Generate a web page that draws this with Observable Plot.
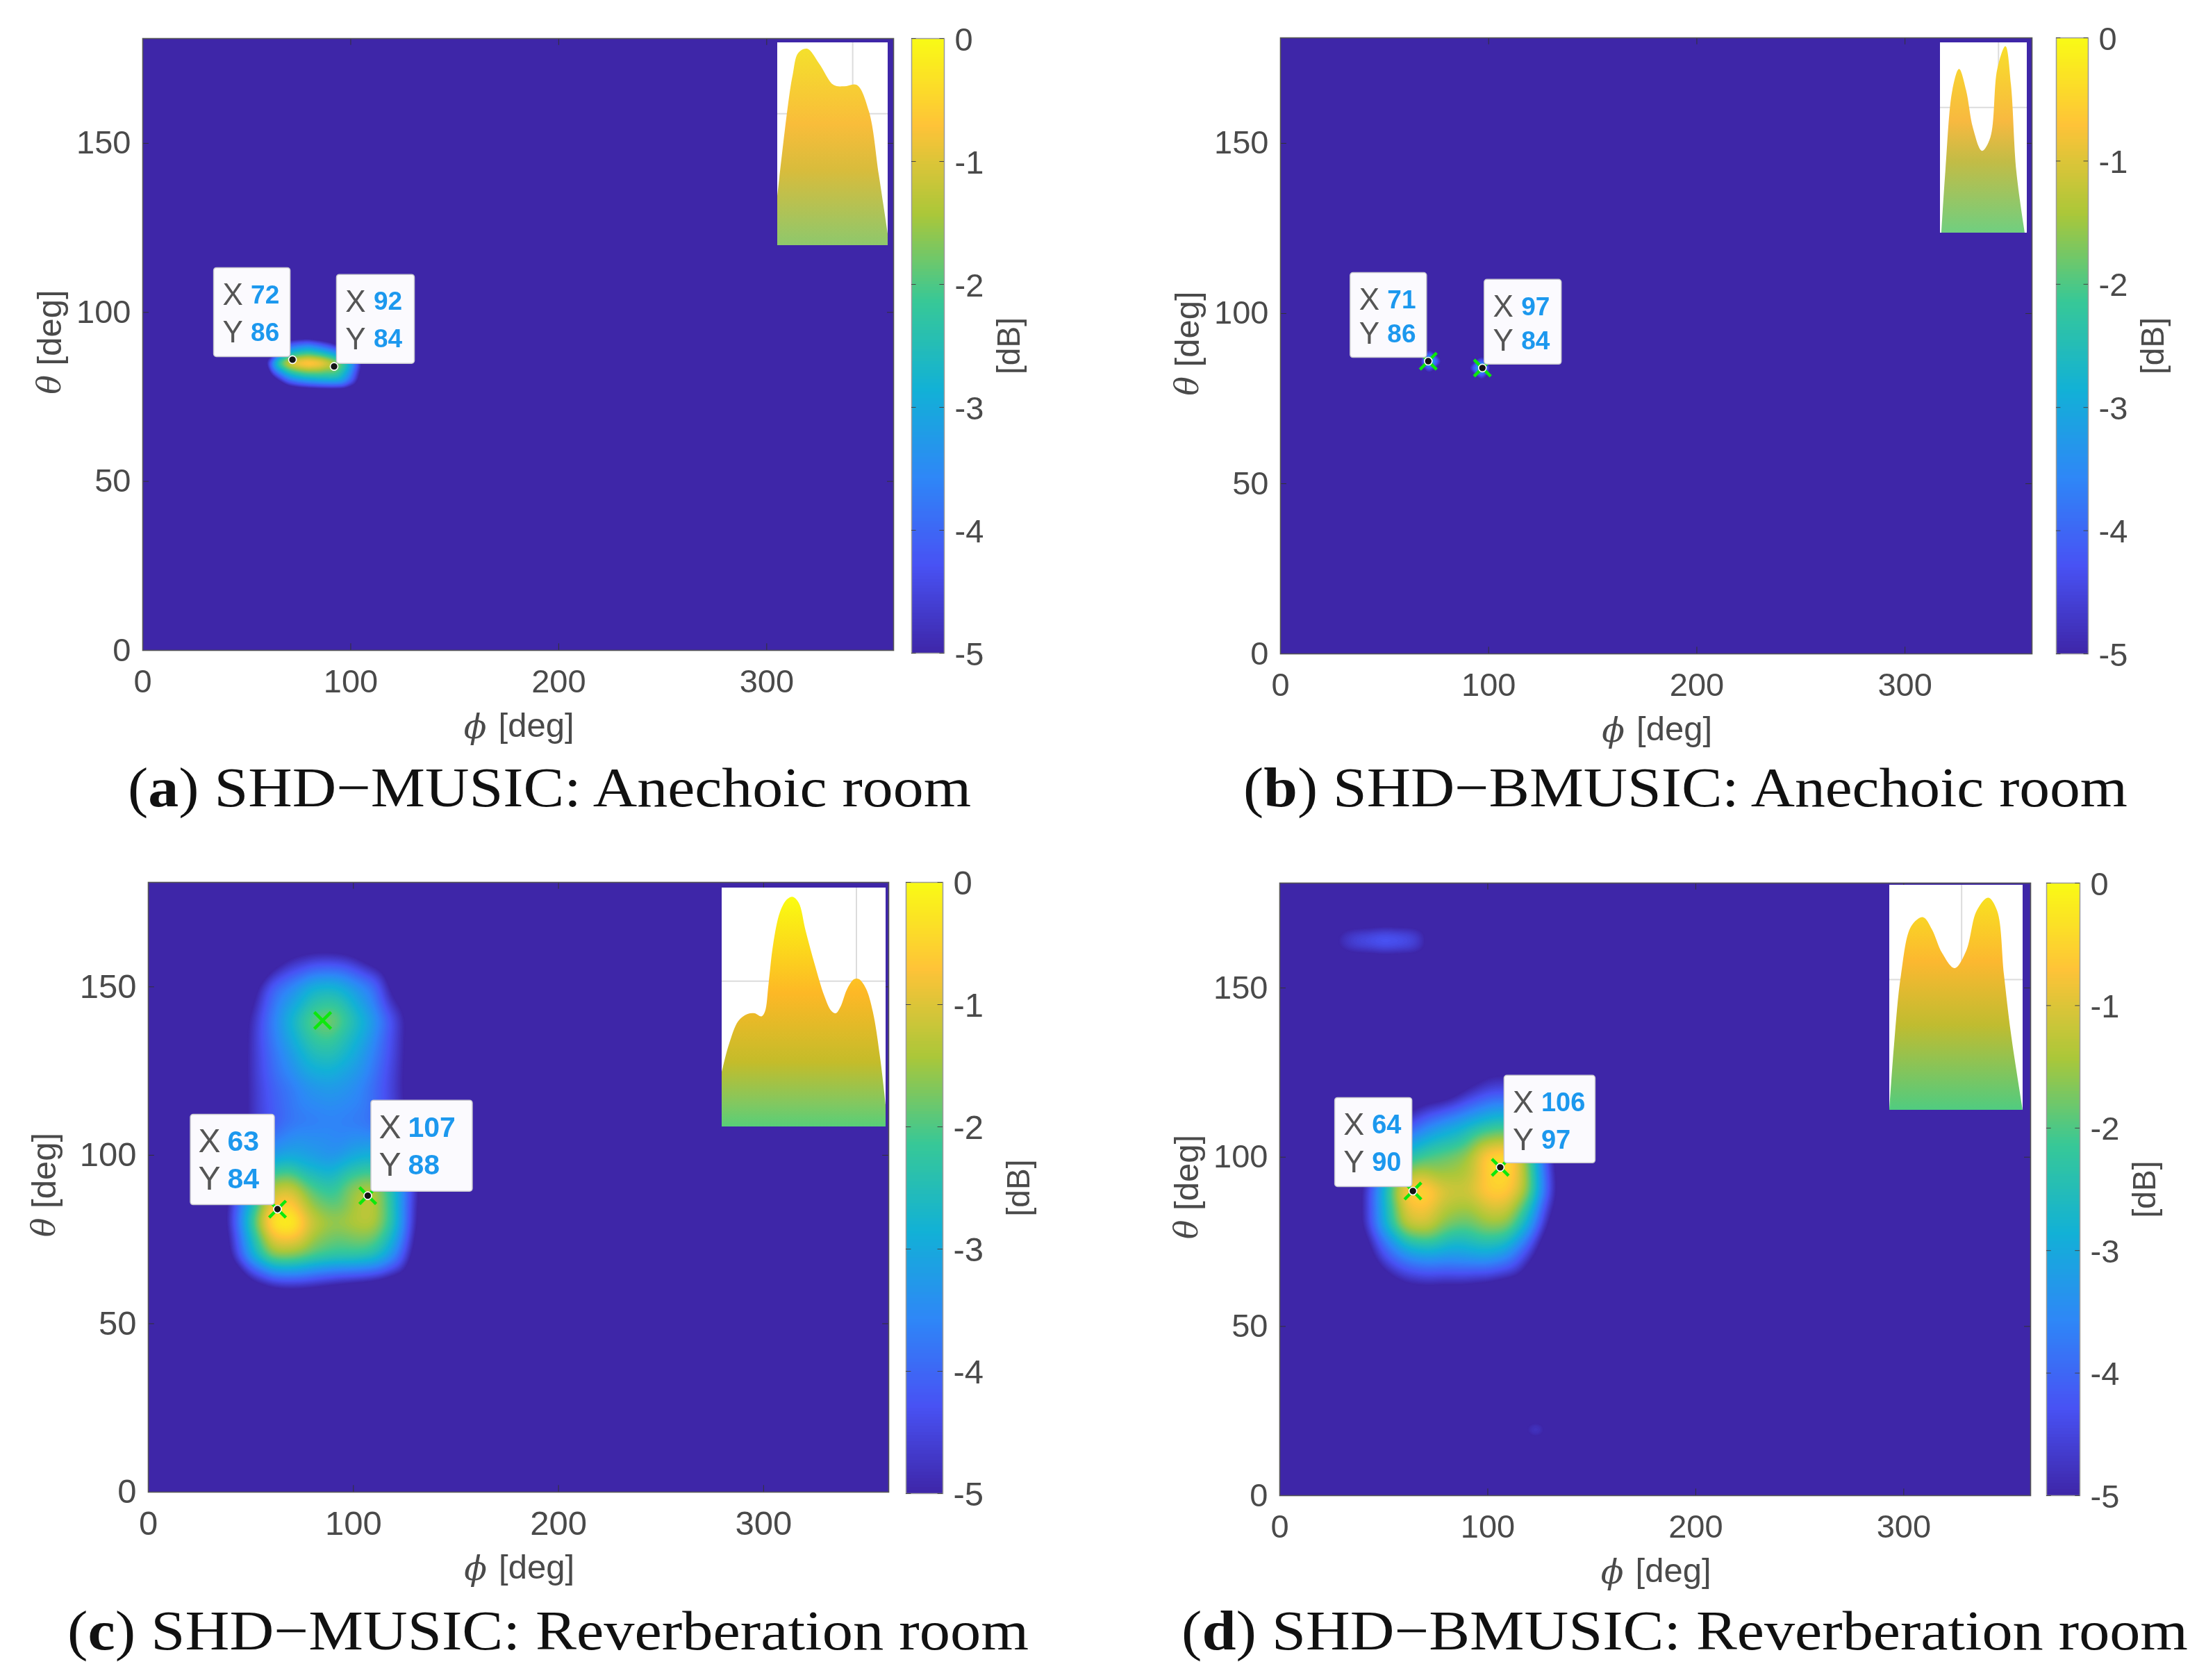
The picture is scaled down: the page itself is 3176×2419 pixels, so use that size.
<!DOCTYPE html>
<html>
<head>
<meta charset="utf-8">
<script src="https://cdn.jsdelivr.net/npm/d3@7"></script>
<script src="https://cdn.jsdelivr.net/npm/@observablehq/plot@0.6"></script>
<style>
html,body{margin:0;padding:0;background:#fff}
#page{position:relative;width:3176px;height:2419px;overflow:hidden;background:#fff}
#page>svg{position:absolute;filter:blur(0.6px)}
.cap{position:absolute;white-space:nowrap;font-family:"Liberation Serif",serif;color:#111;transform-origin:0 50%}
</style>
</head>
<body>
<div id="page"></div>
<script>
// ---------- data ----------
const xTicks = [0, 100, 200, 300];
const yTicks = [0, 50, 100, 150];
const dbTicks = [-5, -4, -3, -2, -1, 0];
const parula = ["#3e26a8","#4852f4","#2e87f7","#12b1d6","#37c897","#abc739","#fec338","#f9fb15"];

const cornerPhi = [0, 361, 0, 361];
const cornerTheta = [0, 0, 181, 181];

// (a) SHD-MUSIC anechoic
const phiA = [55,60,65,70,75,80,85,90,95,100,105,110];
const thetaA = [95,90,85,80,75];
const dbA = [
 [-7,-7,-7,-7,-7,-7,-7,-7,-7,-7,-7,-7],
 [-7,-7,-5.5,-4,-3.6,-3.4,-3.8,-4.3,-5,-6,-7,-7],
 [-7,-4.6,-2,-0.8,-0.4,-0.2,-0.4,-0.9,-1.6,-2.8,-4.8,-7],
 [-7,-6.3,-5,-3.8,-3.3,-3,-2.8,-2.7,-2.8,-3.9,-5.4,-7],
 [-7,-7,-7,-7,-7,-7,-7,-7,-7,-7,-7,-7]
];
// (b) SHD-BMUSIC anechoic
const phiB = [71,67,75,79,71,71,97,101,93,89,97,97];
const thetaB = [86,86,86,86,90,82,84,84,84,84,88,80];
const dbB = [-1.6,-5.3,-3.6,-5.5,-5.3,-5.3,-1.6,-5.3,-3.6,-5.5,-5.3,-5.3];
// (c) SHD-MUSIC reverberation
const phiC = [30,40,50,60,70,80,90,100,110,120,130,140];
const thetaC = [170,160,150,140,130,120,110,100,90,80,70,60,50];
const dbC = [
 [-6.5,-6.5,-6.5,-6.5,-6.5,-6.5,-6.5,-6.5,-6.5,-6.5,-6.5,-6.5],
 [-6.5,-6.5,-6.4,-5.9,-5.2,-5,-5,-5.2,-5.8,-6.3,-6.5,-6.5],
 [-6.5,-6,-5.5,-4.1,-3.5,-2.8,-2.7,-3.2,-3.8,-5.4,-6,-6.5],
 [-6.5,-5.8,-4.9,-3.7,-2.7,-1.8,-1.6,-2.4,-3.2,-4.4,-5.5,-6.5],
 [-6.5,-5.8,-4.8,-3.9,-3.2,-2.5,-2.4,-2.9,-3.6,-4.5,-5.5,-6.5],
 [-6.5,-5.8,-4.8,-4.1,-3.7,-3.3,-3.2,-3.4,-3.9,-4.6,-5.5,-6.5],
 [-6.5,-5.8,-4.8,-4.2,-3.8,-3.7,-3.6,-3.7,-3.9,-4.5,-5.3,-6.5],
 [-6.5,-5.5,-4.4,-3.2,-3,-3.2,-3.4,-3,-2.8,-3.6,-5.1,-6.5],
 [-6.3,-5,-3.2,-1.2,-1,-2,-2.3,-1.5,-1.2,-2.5,-4.7,-6.3],
 [-6.3,-4.7,-2.2,-0.1,0.1,-1.1,-1.5,-1.3,-1.2,-2.4,-4.9,-6.3],
 [-6.5,-5.1,-3,-1.6,-1.6,-2,-2.2,-2.2,-2.4,-3.4,-5.4,-6.5],
 [-6.5,-6.3,-5.7,-5.3,-5.2,-5.3,-5.5,-5.7,-5.9,-6.3,-6.5,-6.5],
 [-6.5,-6.5,-6.5,-6.5,-6.5,-6.5,-6.5,-6.5,-6.5,-6.5,-6.5,-6.5]
];
// (d) SHD-BMUSIC reverberation
const phiD = [30,40,50,60,70,80,90,100,110,120,130,140];
const thetaD = [130,120,110,100,90,80,70,60,50];
const dbD = [
 [-6.5,-6.5,-6.5,-6.5,-6.5,-6.5,-6.3,-5.8,-5.8,-6.3,-6.5,-6.5],
 [-6.5,-6.5,-6.3,-6,-5.8,-5.7,-5,-4.5,-4.4,-5,-6,-6.5],
 [-6.5,-6,-5.2,-4.6,-3.8,-3.3,-2.9,-2.5,-2.3,-3.8,-5.5,-6.3],
 [-6.3,-5.4,-3.7,-2.5,-2,-1.8,-1.5,-0.4,-0.2,-1.8,-4.8,-6.2],
 [-6.2,-5,-2.7,-0.5,-0.3,-1,-1.1,-0.5,-0.5,-1.6,-4.5,-6.2],
 [-6.3,-5,-2.9,-1.2,-1,-1.7,-1.9,-1.5,-1.6,-3,-5.3,-6.3],
 [-6.5,-5.8,-4.4,-3.6,-3.3,-3.4,-3.3,-3.2,-3.6,-4.8,-6,-6.5],
 [-6.5,-6.5,-6,-5.5,-5.4,-5.5,-5.5,-5.7,-6,-6.3,-6.5,-6.5],
 [-6.5,-6.5,-6.5,-6.5,-6.5,-6.5,-6.5,-6.5,-6.5,-6.5,-6.5,-6.5]
];
const extraPhiD = [20,27,40,50,60,70,76, 24,50,76, 24,50,76, 111,118,123,128,135,123,123];
const extraThetaD = [164,164,164,164,164,164,164, 172,172,172, 156,156,156, 19.5,19.5,19.5,19.5,19.5,25,14];
const extraDbD = [-5.8,-4.8,-4.1,-3.8,-4,-4.8,-5.8, -6,-6,-6, -6,-6,-6, -5.8,-4.4,-4.1,-4.4,-5.8,-5.8,-5.8];

// data tips: phi, theta of the picked peaks
const tipPhiA = [72, 92],  tipThetaA = [86, 84];
const tipPhiB = [71, 97],  tipThetaB = [86, 84];
const tipPhiC = [63, 107], tipThetaC = [84, 88];
const tipPhiD = [64, 106], tipThetaD = [90, 97];
const crossPhiC = [63, 107, 85], crossThetaC = [84, 88, 140];

// inset surfaces (percent of the inset box)
const insetAx = [0,9.6,14,19,27,38,51,60.5,72,83,92,100];
const insetAh = [24,68.6,84,94.8,96.9,89.5,79,78.3,79,66,34.6,5.8];
const insetBx = [1.6,6.3,14.3,22,30,38,48.4,58,66,75.4,81.7,88,97.6];
const insetBh = [0,33,75,86,75,55,43,50,86,98,78,32,0];
const insetCx = [0,4.5,10.2,15.8,20.1,24.3,26.4,28.6,31.4,35.6,39.9,43.4,47,51.2,56.9,62.5,66.8,69.6,72.4,76.7,80.9,83.7,88,92.2,96.5,100];
const insetCh = [22.8,34.5,44.2,47.1,47.4,46.1,48.1,59.7,76.2,89.8,95.1,96.1,93.7,82,67.5,54.9,48.5,47.4,50,57.8,61.7,61.7,57.8,48.1,29.6,9.2];
const insetDx = [0,3.6,8.8,16.5,25.3,32,39.7,49,57.7,65.5,74.2,80.9,86,91.2,100];
const insetDh = [0,29,60,81.6,85.6,80.2,69.6,63,70.7,88.4,94.3,88.4,60,34,0];

const captions = [
  ["a", "SHD\u2212MUSIC: Anechoic room"],
  ["b", "SHD\u2212BMUSIC: Anechoic room"],
  ["c", "SHD\u2212MUSIC: Reverberation room"],
  ["d", "SHD\u2212BMUSIC: Reverberation room"]
];

// ---------- helpers ----------
const gridPts = (phis, thetas, rows) => thetas.flatMap((t, i) => phis.map((p, j) => ({phi: p, theta: t, v: rows[i][j]})));
const listPts = (phis, thetas, vals) => phis.map((p, i) => ({phi: p, theta: thetas[i], v: vals[i]}));
const corners = v => cornerPhi.map((p, i) => ({phi: p, theta: cornerTheta[i], v}));
const zipInset = (xs, hs) => xs.map((x, i) => ({x, h: hs[i]}));

const sans = '"Liberation Sans", Arial, sans-serif';
const ink = "#4a4a4a";
const colorScale = {type: "linear", domain: [-5, 0], interpolate: d3.piecewise(d3.interpolateRgb, parula), clamp: true};
const thresholds = d3.range(-5, 0.001, 0.05);
const page = document.getElementById("page");
const phiMax = 361, thetaMax = 181;

function place(el, x, y) { el.style.position = "absolute"; el.style.left = x + "px"; el.style.top = y + "px"; page.appendChild(el); return el; }

// ---------- panel ----------
function panel(cfg) {
  const {frame: f, bar: b, inset: ins, pts, blur, tips, crosses, tipFont, tickFont, row2, titleShift, dbShift} = cfg;
  const kx = f.w / phiMax, ky = f.h / thetaMax;
  const mL = 205, mT = 20, mB = 150, mR = 4;
  const tipRows = tips.map(t => {
    const px = dx => t.phi + dx / kx;
    const py = dy => t.theta - (dy - 2) / ky;
    const left = t.box[0], top = t.box[1];
    return {
      ...t,
      x1: px(left), x2: px(t.box[2]), y1: py(top), y2: py(t.box[3]),
      lx: px(left + 27), vx: px(left + 53), ry1: py(top + 39), ry2: py(top + row2)
    };
  });
  const textTip = {fontFamily: sans, fontSize: tipFont};
  const main = Plot.plot({
    width: f.w + mL + mR, height: f.h + mT + mB,
    marginLeft: mL, marginRight: mR, marginTop: mT, marginBottom: mB,
    x: {domain: [0, phiMax], axis: null},
    y: {domain: [0, thetaMax], axis: null},
    color: colorScale,
    style: {background: "transparent", overflow: "visible"},
    marks: [
      Plot.frame({fill: parula[0]}),
      Plot.contour(pts, {x: "phi", y: "theta", value: "v", fill: "value", interpolate: "barycentric", thresholds, blur, pixelSize: 3, clip: true}),
      Plot.ruleX(xTicks, {x: d => d, y1: 0, y2: 2, stroke: "#333"}),
      Plot.ruleX(xTicks, {x: d => d, y1: thetaMax - 2, y2: thetaMax, stroke: "#333"}),
      Plot.ruleY(yTicks, {y: d => d, x1: 0, x2: 3, stroke: "#333"}),
      Plot.ruleY(yTicks, {y: d => d, x1: phiMax - 3, x2: phiMax, stroke: "#333"}),
      Plot.frame({stroke: "#555", strokeWidth: 1.6}),
      Plot.axisX(xTicks, {anchor: "bottom", tickSize: 0, tickPadding: 27, fontSize: tickFont, fontFamily: sans, color: ink, label: null, tickFormat: d => String(d)}),
      Plot.axisY(yTicks, {anchor: "left", tickSize: 0, tickPadding: 17, fontSize: tickFont, fontFamily: sans, color: ink, label: null, tickFormat: d => String(d)}),
      // axis titles
      Plot.text(["\u03D5"], {frameAnchor: "bottom", dx: -62, dy: 126, fontSize: 48, fontStyle: "italic", fontFamily: '"DejaVu Serif", serif', fill: ink, textAnchor: "middle"}),
      Plot.text(["[deg]"], {frameAnchor: "bottom", dx: 26, dy: 124, fontSize: 49, fontFamily: sans, fill: ink, textAnchor: "middle"}),
      Plot.text(["\u03B8"], {frameAnchor: "left", dx: -133 - titleShift, dy: 58, rotate: -90, fontSize: 46, fontStyle: "italic", fontFamily: '"DejaVu Serif", serif', fill: ink, textAnchor: "middle"}),
      Plot.text(["[deg]"], {frameAnchor: "left", dx: -133 - titleShift, dy: -24, rotate: -90, fontSize: 49, fontFamily: sans, fill: ink, textAnchor: "middle"}),
      // picked-peak markers
      Plot.dot(crosses, {x: "phi", y: "theta", symbol: "times", r: 11, stroke: "#0ce80c", strokeWidth: 4.5}),
      Plot.rect(tipRows, {x1: "x1", x2: "x2", y1: "y1", y2: "y2", fill: "#fbfafe", stroke: "#c9c9cf", strokeWidth: 1.5, rx: 4}),
      Plot.text(tipRows, {x: "lx", y: "ry1", text: () => "X", fill: "#555", ...textTip, fontSize: tipFont + 7}),
      Plot.text(tipRows, {x: "lx", y: "ry2", text: () => "Y", fill: "#555", ...textTip, fontSize: tipFont + 7}),
      Plot.text(tipRows, {x: "vx", y: "ry1", text: d => String(d.phi), textAnchor: "start", fill: "#1c98ee", fontWeight: 700, ...textTip}),
      Plot.text(tipRows, {x: "vx", y: "ry2", text: d => String(d.theta), textAnchor: "start", fill: "#1c98ee", fontWeight: 700, ...textTip}),
      Plot.dot(tipRows, {x: "phi", y: "theta", r: 5.5, fill: "#151515", stroke: "#fff", strokeWidth: 1.6})
    ]
  });
  place(main, f.x - mL, f.y - mT);

  // colour bar
  const step = 0.025;
  const bL = 8, bR = 130, bT = 20, bB = 40;
  const levels = d3.range(-5, 0, step);
  const barPlot = Plot.plot({
    width: b.w + bL + bR, height: b.h + bT + bB,
    marginLeft: bL, marginRight: bR, marginTop: bT, marginBottom: bB,
    x: {domain: [0, 1], axis: null},
    y: {domain: [-5, 0], axis: null},
    color: colorScale,
    style: {background: "transparent", overflow: "visible"},
    marks: [
      Plot.rect(levels, {x1: 0, x2: 1, y1: d => d, y2: d => d + step, fill: d => d + step / 2, shapeRendering: "crispEdges"}),
      Plot.frame({stroke: "#9a9a9a", strokeWidth: 1.5}),
      Plot.ruleY(dbTicks, {y: d => d, x1: 0, x2: 0.14, stroke: "#444"}),
      Plot.ruleY(dbTicks, {y: d => d, x1: 0.86, x2: 1, stroke: "#444"}),
      Plot.axisY(dbTicks, {anchor: "right", tickSize: 0, tickPadding: 15, fontSize: tickFont, fontFamily: sans, color: ink, label: null, dy: 2, tickFormat: d => String(d)}),
      Plot.text(["[dB]"], {frameAnchor: "right", dx: 94 + dbShift, rotate: -90, fontSize: 46, fontFamily: sans, fill: ink, textAnchor: "middle"})
    ]
  });
  place(barPlot, b.x - bL, b.y - bT);

  // inset surface picture
  const gid = "grad" + cfg.id;
  const insetPlot = Plot.plot({
    width: ins.w, height: ins.h, margin: 0,
    x: {domain: [0, 100], axis: null},
    y: {domain: [0, 100], axis: null},
    style: {background: "#fff"},
    marks: [
      () => {
        const defs = d3.create("svg:defs");
        const g = defs.append("linearGradient").attr("id", gid).attr("x1", 0).attr("x2", 0).attr("y1", 0).attr("y2", 1);
        ins.stops.forEach(s => g.append("stop").attr("offset", s[0]).attr("stop-color", s[1]));
        return defs.node();
      },
      Plot.ruleX([ins.gridX], {stroke: "#dcdcdc", strokeWidth: 2}),
      Plot.ruleY([ins.gridY], {stroke: "#dcdcdc", strokeWidth: 2}),
      Plot.areaY(ins.rows, {x: "x", y: "h", curve: "catmull-rom", fill: `url(#${gid})`})
    ]
  });
  place(insetPlot, ins.x, ins.y);
}

// ---------- layout ----------
panel({
  id: "a", tipFont: 37, tickFont: 47, row2: 93, titleShift: 0, dbShift: 0, blur: 0.8,
  frame: {x: 205, y: 55, w: 1081, h: 881},
  bar: {x: 1312, y: 55, w: 47, h: 885},
  inset: {x: 1119, y: 61, w: 159, h: 292, gridX: 68, gridY: 65, rows: zipInset(insetAx, insetAh),
    stops: [[0,"#f4e02c"],[0.38,"#f9bd3a"],[0.62,"#d8bc3c"],[1,"#8ec86c"]]},
  pts: [...gridPts(phiA, thetaA, dbA), ...corners(-7)],
  crosses: [],
  tips: [
    {phi: tipPhiA[0], theta: tipThetaA[0], box: [-113, -130, -3, -2]},
    {phi: tipPhiA[1], theta: tipThetaA[1], box: [4, -130, 116, -2]}
  ]
});
panel({
  id: "b", tipFont: 37, tickFont: 47, row2: 88, titleShift: 0, dbShift: 0, blur: 0.4,
  frame: {x: 1843, y: 54, w: 1082, h: 887},
  bar: {x: 2960, y: 54, w: 46, h: 887},
  inset: {x: 2793, y: 61, w: 125, h: 274, gridX: 67, gridY: 66, rows: zipInset(insetBx, insetBh),
    stops: [[0,"#f8de2a"],[0.4,"#f8b940"],[0.62,"#c2bc46"],[1,"#70cf80"]]},
  pts: [...listPts(phiB, thetaB, dbB), ...corners(-7)],
  crosses: listPts(tipPhiB, tipThetaB, [0, 0]),
  tips: [
    {phi: tipPhiB[0], theta: tipThetaB[0], box: [-112, -125, -2, -3]},
    {phi: tipPhiB[1], theta: tipThetaB[1], box: [3, -125, 114, -3]}
  ]
});
panel({
  id: "c", tipFont: 41, tickFont: 49, row2: 93, titleShift: 16, dbShift: 16, blur: 2.5,
  frame: {x: 213, y: 1270, w: 1066, h: 878},
  bar: {x: 1304, y: 1270, w: 53, h: 880},
  inset: {x: 1039, y: 1278, w: 236, h: 344, gridX: 82, gridY: 61, rows: zipInset(insetCx, insetCh),
    stops: [[0,"#fafc10"],[0.42,"#fdb826"],[0.72,"#c4bc2a"],[0.9,"#82c860"],[1,"#58cf78"]]},
  pts: [...gridPts(phiC, thetaC, dbC), ...corners(-6.5)],
  crosses: listPts(crossPhiC, crossThetaC, [0, 0, 0]),
  tips: [
    {phi: tipPhiC[0], theta: tipThetaC[0], box: [-125, -134, -4, -4]},
    {phi: tipPhiC[1], theta: tipThetaC[1], box: [5, -135, 151, -4]}
  ]
});
panel({
  id: "d", tipFont: 38, tickFont: 47, row2: 93, titleShift: 0, dbShift: 0, blur: 2.5,
  frame: {x: 1842, y: 1271, w: 1081, h: 882},
  bar: {x: 2946, y: 1271, w: 48, h: 882},
  inset: {x: 2720, y: 1274, w: 192, h: 324, gridX: 54, gridY: 58, rows: zipInset(insetDx, insetDh),
    stops: [[0,"#f8e020"],[0.3,"#fcb830"],[0.6,"#c0bc30"],[1,"#50cc80"]]},
  pts: [...gridPts(phiD, thetaD, dbD), ...listPts(extraPhiD, extraThetaD, extraDbD), ...corners(-6.5)],
  crosses: listPts(tipPhiD, tipThetaD, [0, 0]),
  tips: [
    {phi: tipPhiD[0], theta: tipThetaD[0], box: [-112, -132, -1, -4]},
    {phi: tipPhiD[1], theta: tipThetaD[1], box: [6, -130, 137, -4]}
  ]
});

// ---------- captions ----------
const capBoxes = [[184, 1398, 1134], [1790, 3063, 1134], [97, 1481, 2348], [1701, 3150, 2348]];
captions.forEach((c, i) => {
  const [x1, x2, cy] = capBoxes[i];
  const el = document.createElement("div");
  el.className = "cap";
  el.style.fontSize = "80px";
  el.style.lineHeight = "90px";
  el.style.left = x1 + "px";
  el.style.top = (cy - 45) + "px";
  el.innerHTML = `(<b>${c[0]}</b>) ${c[1]}`;
  page.appendChild(el);
  el.style.transform = `scaleX(${(x2 - x1) / el.getBoundingClientRect().width})`;
});
</script>
</body>
</html>
